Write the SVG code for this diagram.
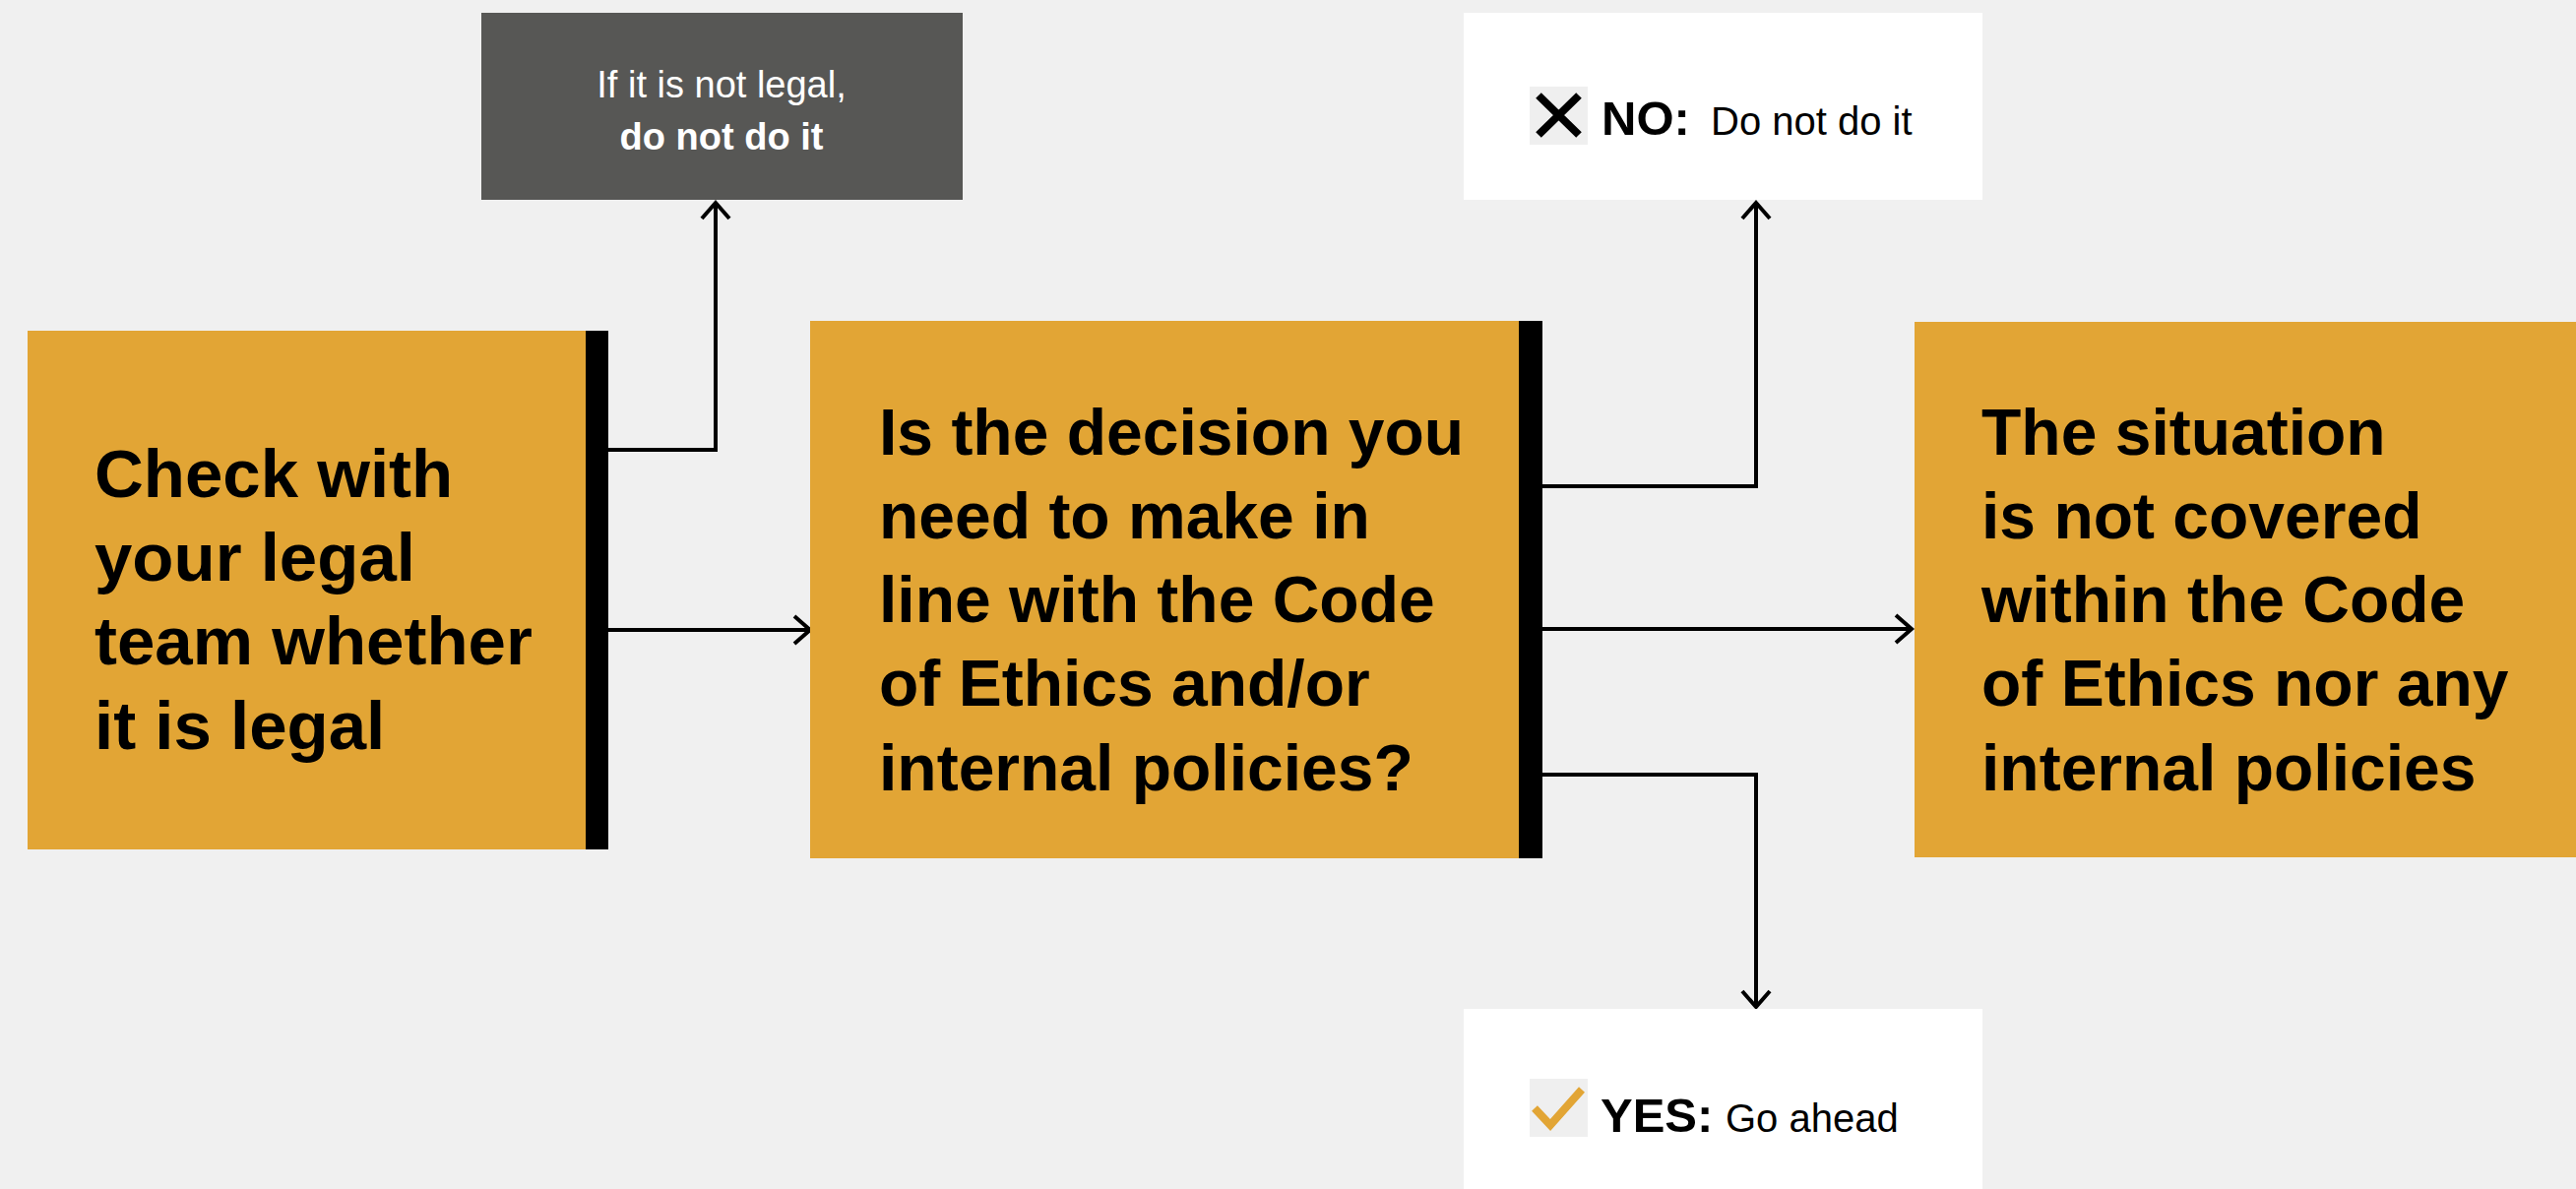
<svg xmlns="http://www.w3.org/2000/svg" width="2617" height="1208" viewBox="0 0 2617 1208">
<style>
.bg{fill:#F0F0F0}
.orange{fill:#E2A535}
.bar{fill:#000000}
.white{fill:#FFFFFF}
.dark{fill:#575755}
.icon{fill:#EFEFEF}
.big{font-family:"Liberation Sans",Arial,sans-serif;font-weight:bold;font-size:66px;fill:#000}
.big68{font-size:69px}
.note{font-family:"Liberation Sans",Arial,sans-serif;font-size:38px;fill:#FFFFFF;text-anchor:middle}
.lbl{font-family:"Liberation Sans",Arial,sans-serif;font-weight:bold;font-size:49px;fill:#000}
.sub{font-family:"Liberation Sans",Arial,sans-serif;font-size:40px;fill:#000}
.conn{fill:none;stroke:#000;stroke-width:4}
</style>
<defs>
<marker id="arr" markerUnits="userSpaceOnUse" markerWidth="24" markerHeight="34" refX="19" refY="16" orient="auto" overflow="visible">
<path d="M3,2 L19,16 L3,30" fill="none" stroke="#000" stroke-width="4"/>
</marker>
</defs>
<rect class="bg" x="0" y="0" width="2617" height="1208"/>

<g id="connectors">
<path class="conn" d="M618,457 H727 V206" marker-end="url(#arr)"/>
<path class="conn" d="M618,640 H823" marker-end="url(#arr)"/>
<path class="conn" d="M1567,494 H1784 V206" marker-end="url(#arr)"/>
<path class="conn" d="M1567,639 H1942" marker-end="url(#arr)"/>
<path class="conn" d="M1567,787 H1784 V1023" marker-end="url(#arr)"/>
</g>

<g id="node-check">
<rect class="orange" x="28" y="336" width="567" height="527"/>
<rect class="bar" x="595" y="336" width="23" height="527"/>
<text class="big big68" x="96" y="505">Check with</text>
<text class="big big68" x="96" y="590">your legal</text>
<text class="big big68" x="96" y="675">team whether</text>
<text class="big big68" x="96" y="761">it is legal</text>
</g>

<g id="node-illegal">
<rect class="dark" x="489" y="13" width="489" height="190"/>
<text class="note" x="733" y="99">If it is not legal,</text>
<text class="note" x="733" y="152" font-weight="bold">do not do it</text>
</g>

<g id="node-decision">
<rect class="orange" x="823" y="326" width="720" height="546"/>
<rect class="bar" x="1543" y="326" width="24" height="546"/>
<text class="big" x="893" y="462">Is the decision you</text>
<text class="big" x="893" y="547">need to make in</text>
<text class="big" x="893" y="632">line with the Code</text>
<text class="big" x="893" y="717">of Ethics and/or</text>
<text class="big" x="893" y="803">internal policies?</text>
</g>

<g id="node-no">
<rect class="white" x="1487" y="13" width="527" height="190"/>
<rect class="icon" x="1554" y="88" width="59" height="59"/>
<path d="M1563,97 L1604,137 M1604,97 L1563,137" stroke="#000" stroke-width="8" fill="none"/>
<text class="lbl" x="1627" y="137">NO:</text>
<text class="sub" x="1738" y="137">Do not do it</text>
</g>

<g id="node-yes">
<rect class="white" x="1487" y="1025" width="527" height="183"/>
<rect class="icon" x="1554" y="1096" width="59" height="59"/>
<path d="M1559,1126 L1575,1143 L1607,1107" stroke="#E2A535" stroke-width="8" fill="none"/>
<text class="lbl" x="1626" y="1150">YES:</text>
<text class="sub" x="1753" y="1150">Go ahead</text>
</g>

<g id="node-notcovered">
<rect class="orange" x="1945" y="327" width="672" height="544"/>
<text class="big" x="2013" y="462">The situation</text>
<text class="big" x="2013" y="547">is not covered</text>
<text class="big" x="2013" y="632">within the Code</text>
<text class="big" x="2013" y="717">of Ethics nor any</text>
<text class="big" x="2013" y="803">internal policies</text>
</g>
</svg>
